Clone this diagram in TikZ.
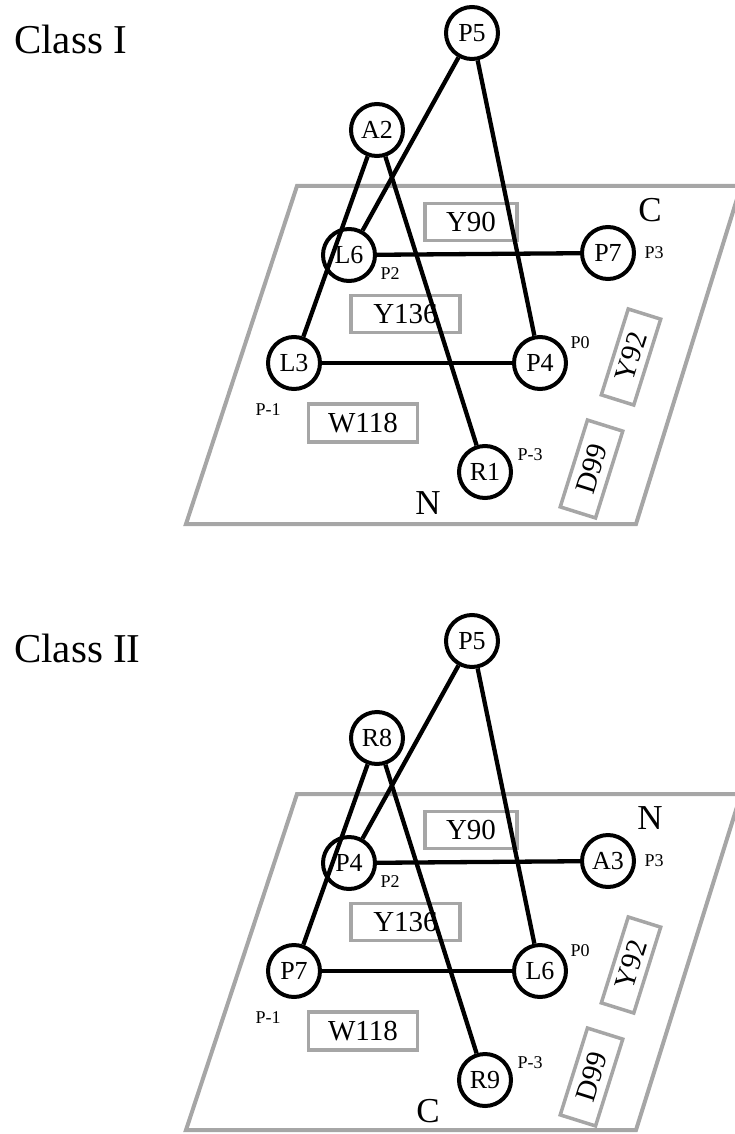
\documentclass[tikz,border=0pt]{standalone}
\usepackage{fontspec}
\setmainfont{Liberation Serif}
\definecolor{framegray}{RGB}{166,166,166}
\tikzset{
  res/.style={circle, draw=black, line width=4pt, fill=white,
    minimum size=52pt, inner sep=0pt, font=\fontsize{26}{26}\selectfont},
  bond/.style={line width=4.3pt, black},
  tag/.style={inner sep=0pt, font=\fontsize{18}{18}\selectfont},
  corner/.style={inner sep=0pt, font=\fontsize{35}{35}\selectfont},
  title/.style={inner sep=0pt, anchor=base west, font=\fontsize{41}{41}\selectfont},
  site/.style={draw=framegray, line width=3.5pt, fill=none, inner sep=0pt,
    font=\fontsize{29}{29}\selectfont},
  plane/.style={draw=framegray, line width=4pt, line join=miter},
}
\begin{document}
\begin{tikzpicture}[x=1pt, y=-1pt]
\useasboundingbox (0,0) rectangle (735,1134);

% ---------- upper panel ----------
\node[title] (t1) at (14,54) {Class I};
\draw[plane] (297,186) -- (741,186) -- (636,524) -- (186,524) -- cycle;
\node[site, minimum width=92pt, minimum height=37pt] (a90) at (471,222) {Y90};
\node[site, minimum width=109pt, minimum height=37pt] (a136) at (405.5,314) {Y136};
\node[site, minimum width=109pt, minimum height=38pt] (a118) at (363,423) {W118};
\node[site, minimum width=90pt, minimum height=34pt, rotate=72.6] (a92) at (631,357) {Y92};
\node[site, minimum width=91pt, minimum height=37pt, rotate=72.6] (a99) at (591.5,469) {D99};
\node[corner] (aC) at (650,210) {C};
\node[corner] (aN) at (428,503) {N};

\node[res] (aP5) at (472,33) {P5};
\node[res] (aA2) at (377,130) {A2};
\node[res] (aL6) at (349,255) {L6};
\node[res] (aP7) at (608,253) {P7};
\node[res] (aL3) at (294,363) {L3};
\node[res] (aP4) at (540,363) {P4};
\node[res] (aR1) at (485,472) {R1};

\draw[bond] (aP5) -- (aL6);
\draw[bond] (aP5) -- (aP4);
\draw[bond] (aA2) -- (aL3);
\draw[bond] (aA2) -- (aR1);
\draw[bond] (aL6) -- (aP7);
\draw[bond] (aL3) -- (aP4);

\node[tag] (aq2) at (390,274) {P2};
\node[tag] (aq3) at (654,253) {P3};
\node[tag] (aq0) at (580,343) {P0};
\node[tag] (aqm1) at (268,410) {P-1};
\node[tag] (aqm3) at (530,455) {P-3};

% ---------- lower panel ----------
\begin{scope}[yshift=-608pt]
\node[title] (t2) at (14,54) {Class II};
\draw[plane] (297,186) -- (741,186) -- (636,522) -- (186,522) -- cycle;
\node[site, minimum width=92pt, minimum height=37pt] (b90) at (471,222) {Y90};
\node[site, minimum width=109pt, minimum height=37pt] (b136) at (405.5,314) {Y136};
\node[site, minimum width=109pt, minimum height=38pt] (b118) at (363,423) {W118};
\node[site, minimum width=90pt, minimum height=34pt, rotate=72.6] (b92) at (631,357) {Y92};
\node[site, minimum width=91pt, minimum height=37pt, rotate=72.6] (b99) at (591.5,469) {D99};
\node[corner] (bN) at (650,210) {N};
\node[corner] (bC) at (428,503) {C};

\node[res] (bP5) at (472,33) {P5};
\node[res] (bR8) at (377,130) {R8};
\node[res] (bP4) at (349,255) {P4};
\node[res] (bA3) at (608,253) {A3};
\node[res] (bP7) at (294,363) {P7};
\node[res] (bL6) at (540,363) {L6};
\node[res] (bR9) at (485,472) {R9};

\draw[bond] (bP5) -- (bP4);
\draw[bond] (bP5) -- (bL6);
\draw[bond] (bR8) -- (bP7);
\draw[bond] (bR8) -- (bR9);
\draw[bond] (bP4) -- (bA3);
\draw[bond] (bP7) -- (bL6);

\node[tag] (bq2) at (390,274) {P2};
\node[tag] (bq3) at (654,253) {P3};
\node[tag] (bq0) at (580,343) {P0};
\node[tag] (bqm1) at (268,410) {P-1};
\node[tag] (bqm3) at (530,455) {P-3};
\end{scope}
\end{tikzpicture}
\end{document}
